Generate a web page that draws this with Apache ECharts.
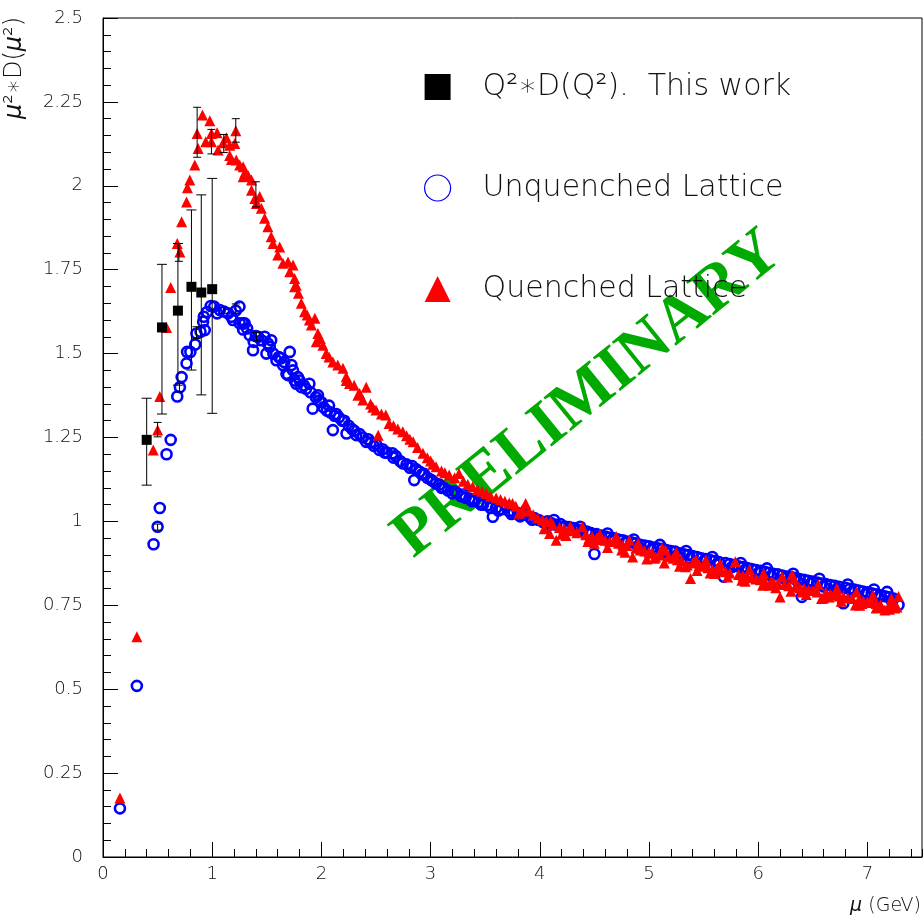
<!DOCTYPE html>
<html>
<head>
<meta charset="utf-8">
<title>mu2 D(mu2)</title>
<script src="https://cdn.jsdelivr.net/npm/echarts@6/dist/echarts.min.js"></script>
<style>
  html, body { margin: 0; padding: 0; background: #fff; }
  #chart { width: 924px; height: 923px; }
</style>
</head>
<body>
<div id="chart"></div>
<script>
// Q^2*D(Q^2), this work: [mu, value, low, high]
var thisWork = [
  [0.40, 1.243, 1.108, 1.367],
  [0.54, 1.578, 1.320, 1.766],
  [0.686, 1.628, 1.406, 1.828],
  [0.81, 1.699, 1.451, 1.928],
  [0.90, 1.682, 1.377, 1.973],
  [1.00, 1.692, 1.322, 2.022]
];

// unquenched lattice (open blue circles)
var unquenched = [
  [0.155,0.145],[0.31,0.51],[0.463,0.932],[0.50,0.984],[0.52,1.04],[0.582,1.20],[0.62,1.243],
  [0.68,1.372],[0.704,1.40],[0.72,1.43],[0.765,1.471],[0.77,1.505],[0.80,1.505],[0.844,1.527],
  [0.856,1.56],[0.893,1.565],[0.917,1.595],[0.932,1.57],[0.923,1.61],[0.953,1.624],[0.987,1.642],
  [1.018,1.64],[1.045,1.62],[1.07,1.63],[1.109,1.625],[1.145,1.62],[1.176,1.61],[1.19,1.60],
  [1.216,1.628],[1.25,1.64],[1.252,1.59],[1.28,1.59],[1.298,1.59],[1.283,1.572],[1.32,1.575],
  [1.344,1.555],[1.374,1.51],[1.38,1.535],[1.40,1.552],[1.42,1.55],[1.45,1.54],[1.48,1.55],[1.496,1.50],
  [1.51,1.53],[1.527,1.52],[1.54,1.54],[1.56,1.50],[1.588,1.48],[1.61,1.49],[1.63,1.486],[1.648,1.466],
  [1.66,1.475],[1.68,1.44],[1.694,1.436],[1.71,1.505],[1.725,1.466],[1.74,1.45],[1.755,1.42],
  [1.77,1.41],[1.785,1.43],[1.80,1.42],[1.816,1.40],[1.84,1.405],[1.86,1.395],[1.89,1.41],[1.90,1.385],
  [1.92,1.336],[1.95,1.37],[1.968,1.376],[1.98,1.36],[2.0,1.355],[2.02,1.34],[2.05,1.33],[2.07,1.345],
  [2.08,1.325],[2.105,1.272],[2.12,1.315],[2.136,1.32],[2.16,1.31],[2.19,1.30],[2.21,1.30],[2.23,1.262],
  [2.25,1.285],[2.28,1.275],[2.30,1.27],[2.32,1.257],[2.35,1.26],[2.38,1.25],[2.41,1.237],[2.43,1.245],
  [2.45,1.235],[2.48,1.225],[2.50,1.23],[2.53,1.213],[2.56,1.215],[2.58,1.205],[2.60,1.205],[2.65,1.203],
  [2.66,1.19],[2.68,1.195],[2.72,1.18],[2.745,1.173],[2.78,1.17],[2.81,1.16],[2.83,1.165],[2.85,1.123],
  [2.87,1.155],[2.90,1.148],[2.92,1.14],[2.94,1.142],[2.97,1.13],[3.0,1.125],[3.02,1.12],[3.05,1.113],
  [3.08,1.11],[3.10,1.10],[3.12,1.10],[3.16,1.092],[3.2,1.083],[3.22,1.09],[3.24,1.085],[3.28,1.075],
  [3.3,1.08],[3.32,1.07],[3.355,1.068],[3.38,1.06],[3.40,1.062],[3.44,1.058],[3.46,1.05],[3.48,1.05],
  [3.52,1.048],[3.55,1.04],[3.57,1.014],[3.6,1.04],[3.62,1.032],[3.65,1.036],[3.69,1.044],[3.72,1.03],
  [3.74,1.022],[3.76,1.028],[3.8,1.025],[3.82,1.015],[3.84,1.02],[3.87,1.024],[3.91,1.012],[3.93,1.005],
  [3.95,1.01],[3.99,1.004],[4.03,0.998],[4.07,1.0],[4.09,0.99],[4.11,0.994],[4.15,0.99],[4.19,0.992],
  [4.21,0.982],[4.23,0.985],[4.27,0.983],[4.31,0.98],[4.33,0.972],[4.35,0.976],[4.39,0.972],[4.43,0.97],
  [4.45,0.962],[4.47,0.965],[4.50,0.903],[4.52,0.962],[4.54,0.955],[4.56,0.958],[4.60,0.955],[4.64,0.952],
  [4.66,0.944],[4.68,0.95],[4.72,0.946],[4.76,0.944],[4.78,0.936],[4.80,0.94],[4.84,0.938],[4.88,0.935],
  [4.90,0.926],[4.92,0.93],[4.96,0.928],[5.0,0.926],[5.02,0.916],[5.04,0.922],[5.08,0.92],[5.12,0.918],
  [5.15,0.908],[5.16,0.915],[5.2,0.912],[5.24,0.91],[5.26,0.9],[5.28,0.905],[5.32,0.902],[5.36,0.9],
  [5.38,0.89],[5.40,0.897],[5.44,0.894],[5.48,0.89],[5.50,0.881],[5.52,0.888],[5.56,0.885],[5.60,0.882],
  [5.62,0.872],[5.64,0.879],[5.685,0.835],[5.70,0.876],[5.74,0.873],[5.76,0.864],[5.78,0.869],[5.82,0.866],
  [5.86,0.864],[5.88,0.855],[5.90,0.861],[5.94,0.858],[5.98,0.855],[6.0,0.846],[6.02,0.853],[6.06,0.85],
  [6.10,0.847],[6.12,0.838],[6.14,0.844],[6.18,0.842],[6.22,0.839],[6.24,0.83],[6.26,0.836],[6.30,0.834],
  [6.34,0.832],[6.36,0.822],[6.38,0.828],[6.40,0.775],[6.42,0.826],[6.46,0.823],[6.48,0.814],[6.50,0.821],
  [6.54,0.818],[6.58,0.815],[6.60,0.806],[6.62,0.813],[6.66,0.81],[6.70,0.808],[6.72,0.799],[6.74,0.805],
  [6.78,0.756],[6.80,0.802],[6.84,0.799],[6.86,0.79],[6.88,0.797],[6.92,0.794],[6.96,0.791],[6.98,0.782],
  [7.0,0.789],[7.04,0.786],[7.08,0.783],[7.10,0.774],[7.12,0.78],[7.16,0.777],[7.2,0.774],[7.22,0.765],
  [7.24,0.77],[7.285,0.751],
  // upper edge of the band
  [4.13,1.004],[4.37,0.984],[4.62,0.964],[4.86,0.946],[5.10,0.93],[5.34,0.912],[5.58,0.894],
  [5.84,0.876],[6.08,0.86],[6.32,0.844],[6.56,0.829],[6.82,0.812],[7.06,0.797],[7.18,0.79]
];

// quenched lattice (red triangles)
var quenched = [
  [0.155,0.176],[0.31,0.656],[0.46,1.213],[0.50,1.272],[0.52,1.372],[0.582,1.578],[0.62,1.697],
  [0.68,1.828],[0.704,1.803],[0.72,1.893],[0.765,1.952],[0.773,1.994],[0.795,2.017],[0.841,2.062],
  [0.871,2.111],[0.862,2.156],[0.911,2.211],[0.941,2.131],[0.978,2.194],[0.993,2.156],[0.993,2.131],
  [1.045,2.158],[1.054,2.107],[1.10,2.128],[1.13,2.143],[1.16,2.09],[1.16,2.121],[1.207,2.126],
  [1.216,2.164],[1.176,2.078],[1.22,2.077],[1.252,2.062],[1.283,2.057],[1.283,2.027],[1.30,2.04],
  [1.33,2.03],[1.36,2.017],[1.36,1.987],[1.39,1.962],[1.405,1.947],[1.435,1.968],[1.45,1.933],
  [1.48,1.903],[1.51,1.878],[1.54,1.848],[1.557,1.828],[1.60,1.794],[1.618,1.818],[1.648,1.769],
  [1.694,1.773],[1.71,1.744],[1.74,1.764],[1.755,1.724],[1.755,1.699],[1.77,1.704],[1.79,1.68],
  [1.816,1.65],[1.846,1.625],[1.87,1.615],[1.89,1.60],[1.908,1.585],[1.94,1.605],[1.953,1.535],
  [1.968,1.56],[1.99,1.545],[2.014,1.525],[2.044,1.50],[2.07,1.49],[2.105,1.475],[2.15,1.466],
  [2.197,1.456],[2.227,1.42],[2.227,1.431],[2.258,1.411],[2.30,1.406],[2.334,1.376],[2.35,1.381],
  [2.38,1.362],[2.41,1.40],[2.45,1.35],[2.47,1.34],[2.50,1.332],[2.52,1.257],[2.55,1.32],[2.59,1.317],
  [2.62,1.292],[2.66,1.285],[2.70,1.275],[2.745,1.267],[2.78,1.255],[2.81,1.245],[2.84,1.237],
  [2.88,1.22],[2.93,1.203],[2.97,1.19],[3.0,1.18],[3.02,1.17],[3.05,1.163],[3.1,1.15],[3.13,1.145],
  [3.17,1.138],[3.22,1.13],[3.26,1.143],[3.3,1.12],[3.34,1.11],[3.385,1.103],[3.43,1.095],[3.47,1.09],
  [3.51,1.083],[3.55,1.075],[3.6,1.07],[3.64,1.065],[3.68,1.06],[3.72,1.055],[3.75,1.053],[3.78,1.045],
  [3.81,1.024],[3.84,1.035],[3.87,1.053],[3.9,1.03],[3.94,1.02],[3.98,1.01],[4.025,1.004],[4.06,1.0],
  [4.09,0.964],[4.10,1.0],[4.12,0.99],[4.15,0.944],[4.18,0.982],[4.20,0.962],[4.22,0.978],[4.26,0.972],
  [4.28,0.985],[4.30,0.974],[4.34,0.966],[4.39,0.984],[4.42,0.96],[4.45,0.949],[4.48,0.955],[4.50,0.935],
  [4.52,0.95],[4.55,0.962],[4.56,0.945],[4.60,0.944],[4.64,0.94],[4.69,0.94],[4.70,0.955],[4.72,0.935],
  [4.75,0.915],[4.76,0.93],[4.80,0.928],[4.82,0.944],[4.85,0.894],[4.88,0.92],[4.90,0.935],[4.92,0.915],
  [4.96,0.912],[5.0,0.908],[5.03,0.905],[5.05,0.89],[5.06,0.894],[5.10,0.9],[5.12,0.92],[5.15,0.915],
  [5.18,0.895],[5.22,0.89],[5.25,0.908],[5.26,0.886],[5.30,0.882],[5.335,0.865],[5.35,0.87],[5.38,0.83],
  [5.40,0.876],[5.43,0.885],[5.46,0.87],[5.5,0.866],[5.52,0.885],[5.54,0.862],[5.58,0.855],[5.60,0.845],
  [5.62,0.858],[5.65,0.873],[5.66,0.852],[5.7,0.85],[5.74,0.846],[5.79,0.88],[5.82,0.842],[5.85,0.825],
  [5.86,0.838],[5.9,0.835],[5.92,0.856],[5.94,0.832],[5.98,0.828],[6.02,0.826],[6.05,0.845],[6.06,0.822],
  [6.1,0.81],[6.12,0.82],[6.14,0.818],[6.18,0.815],[6.2,0.775],[6.22,0.835],[6.24,0.812],[6.28,0.808],
  [6.31,0.84],[6.33,0.828],[6.34,0.805],[6.38,0.802],[6.40,0.79],[6.42,0.8],[6.46,0.796],[6.5,0.794],
  [6.54,0.79],[6.55,0.812],[6.58,0.77],[6.62,0.788],[6.65,0.775],[6.66,0.784],[6.7,0.782],[6.72,0.8],
  [6.74,0.778],[6.78,0.776],[6.82,0.772],[6.86,0.77],[6.89,0.751],[6.90,0.79],[6.92,0.766],[6.95,0.755],
  [6.96,0.763],[7.0,0.76],[7.04,0.758],[7.05,0.78],[7.08,0.755],[7.1,0.745],[7.12,0.752],[7.16,0.736],
  [7.2,0.75],[7.22,0.77],[7.24,0.748],[7.25,0.742],[7.27,0.745],[7.285,0.776],
  // lower edge of the band
  [4.04,0.978],[4.24,0.958],[4.44,0.94],[4.62,0.922],[4.78,0.908],[4.98,0.888],[5.14,0.876],
  [5.28,0.866],[5.44,0.854],[5.56,0.846],[5.72,0.834],[5.88,0.822],[6.04,0.81],[6.16,0.802],
  [6.30,0.792],[6.44,0.782],[6.6,0.772],[6.76,0.762],[6.93,0.75],[7.08,0.742],[7.2,0.738]
];

// statistical errors on a few lattice points: [mu, low, high]
var latticeErrors = [
  [0.862, 2.085, 2.234], [0.993, 2.095, 2.168], [1.106, 2.099, 2.153],
  [1.216, 2.130, 2.200], [1.400, 1.937, 2.012], [0.695, 1.775, 1.828],
  [0.500, 1.252, 1.295],
  [0.700, 1.386, 1.411], [0.856, 1.545, 1.580], [1.106, 1.620, 1.637],
  [1.216, 1.620, 1.648], [1.405, 1.538, 1.563], [0.500, 0.974, 0.992]
];

var seriesNames = ['Q\u00b2\u2217D(Q\u00b2).  This work', 'Unquenched Lattice', 'Quenched Lattice'];

var thinFont = 'DejaVu Sans';
var textColor = '#111';

function errorBar(capHalf) {
  return function (params, api) {
    var x = api.value(0);
    var top = api.coord([x, api.value(2)]);
    var bot = api.coord([x, api.value(1)]);
    var st = { stroke: '#000', lineWidth: 1 };
    return {
      type: 'group',
      children: [
        { type: 'line', shape: { x1: top[0], y1: top[1], x2: bot[0], y2: bot[1] }, style: st },
        { type: 'line', shape: { x1: top[0] - capHalf, y1: top[1], x2: top[0] + capHalf, y2: top[1] }, style: st },
        { type: 'line', shape: { x1: bot[0] - capHalf, y1: bot[1], x2: bot[0] + capHalf, y2: bot[1] }, style: st }
      ]
    };
  };
}

var chart = echarts.init(document.getElementById('chart'));

chart.setOption({
  animation: false,
  backgroundColor: '#fff',
  grid: { left: 103, right: 2, top: 18, bottom: 66, show: true, borderColor: '#000', borderWidth: 1 },
  legend: {
    orient: 'vertical',
    left: 419,
    top: 67,
    itemWidth: 26,
    itemHeight: 26,
    itemGap: 71,
    selectedMode: false,
    textStyle: { fontFamily: thinFont, fontWeight: 200, fontSize: 30, color: textColor, padding: [0, 0, 0, 27] },
    data: [
      { name: seriesNames[0], icon: 'rect' },
      { name: seriesNames[1], icon: 'circle', itemStyle: { borderWidth: 1.2 } },
      { name: seriesNames[2], icon: 'triangle' }
    ]
  },
  xAxis: [
    {
      type: 'value', min: 0, max: 7.5, interval: 0.2,
      axisLine: { show: true, lineStyle: { color: '#000' } },
      axisTick: { inside: true, length: 8, lineStyle: { color: '#000' } },
      axisLabel: { show: false },
      splitLine: { show: false }
    },
    {
      type: 'value', min: 0, max: 7.5, interval: 1, position: 'bottom',
      axisLine: { show: false },
      axisTick: { inside: true, length: 15, lineStyle: { color: '#000' } },
      axisLabel: { margin: 8, fontFamily: thinFont, fontWeight: 200, fontSize: 18, color: textColor, showMaxLabel: false },
      splitLine: { show: false }
    }
  ],
  yAxis: {
    type: 'value', min: 0, max: 2.5, interval: 0.25,
    axisLine: { show: true, lineStyle: { color: '#000' } },
    axisTick: { inside: true, length: 15, lineStyle: { color: '#000' } },
    minorTick: { show: true, splitNumber: 5, length: 8, lineStyle: { color: '#000' } },
    axisLabel: { margin: 20, fontFamily: thinFont, fontWeight: 200, fontSize: 18, color: textColor },
    splitLine: { show: false },
    minorSplitLine: { show: false }
  },
  graphic: [
    {
      type: 'text', z: 1,
      x: 588, y: 395, rotation: 39 * Math.PI / 180,
      style: {
        text: 'PRELIMINARY', fill: '#00aa00',
        font: 'bold 66px "Liberation Serif", "Times New Roman", serif',
        align: 'center', verticalAlign: 'middle'
      }
    },
    {
      type: 'text', z: 10,
      x: 15, y: 68, rotation: Math.PI / 2,
      style: {
        text: '{i|\u03bc}\u00b2\u2217D({i|\u03bc}\u00b2)',
        fill: textColor, fontFamily: thinFont, fontWeight: 200, fontSize: 24,
        align: 'center', verticalAlign: 'middle',
        rich: { i: { fontStyle: 'italic', fontFamily: thinFont, fontWeight: 200, fontSize: 24, fill: textColor } }
      }
    },
    {
      type: 'text', z: 10,
      x: 921, y: 906,
      style: {
        text: '{i|\u03bc} (GeV)',
        fill: textColor, fontFamily: thinFont, fontWeight: 200, fontSize: 19,
        align: 'right', verticalAlign: 'middle',
        rich: { i: { fontStyle: 'italic', fontFamily: thinFont, fontWeight: 200, fontSize: 19, fill: textColor } }
      }
    }
  ],
  series: [
    {
      name: seriesNames[1], type: 'scatter', z: 3,
      symbol: 'circle', symbolSize: 10,
      itemStyle: { color: 'rgba(0,0,255,0)', borderColor: '#0000ff', borderWidth: 2.6, opacity: 1 },
      data: unquenched
    },
    {
      name: seriesNames[2], type: 'scatter', z: 4,
      symbol: 'triangle', symbolSize: 11,
      itemStyle: { color: '#ff0000', opacity: 1 },
      data: quenched
    },
    {
      name: 'latticeErr', type: 'custom', z: 5,
      renderItem: errorBar(4),
      encode: { x: 0, y: [1, 2] },
      data: latticeErrors
    },
    {
      name: seriesNames[0], type: 'scatter', z: 6,
      symbol: 'rect', symbolSize: 10,
      itemStyle: { color: '#000', opacity: 1 },
      data: thisWork.map(function (d) { return [d[0], d[1]]; })
    },
    {
      name: 'thisWorkErr', type: 'custom', z: 6,
      renderItem: errorBar(5),
      encode: { x: 0, y: [1, 2] },
      data: thisWork.map(function (d) { return [d[0], d[2], d[3]]; })
    }
  ]
});
</script>
</body>
</html>
